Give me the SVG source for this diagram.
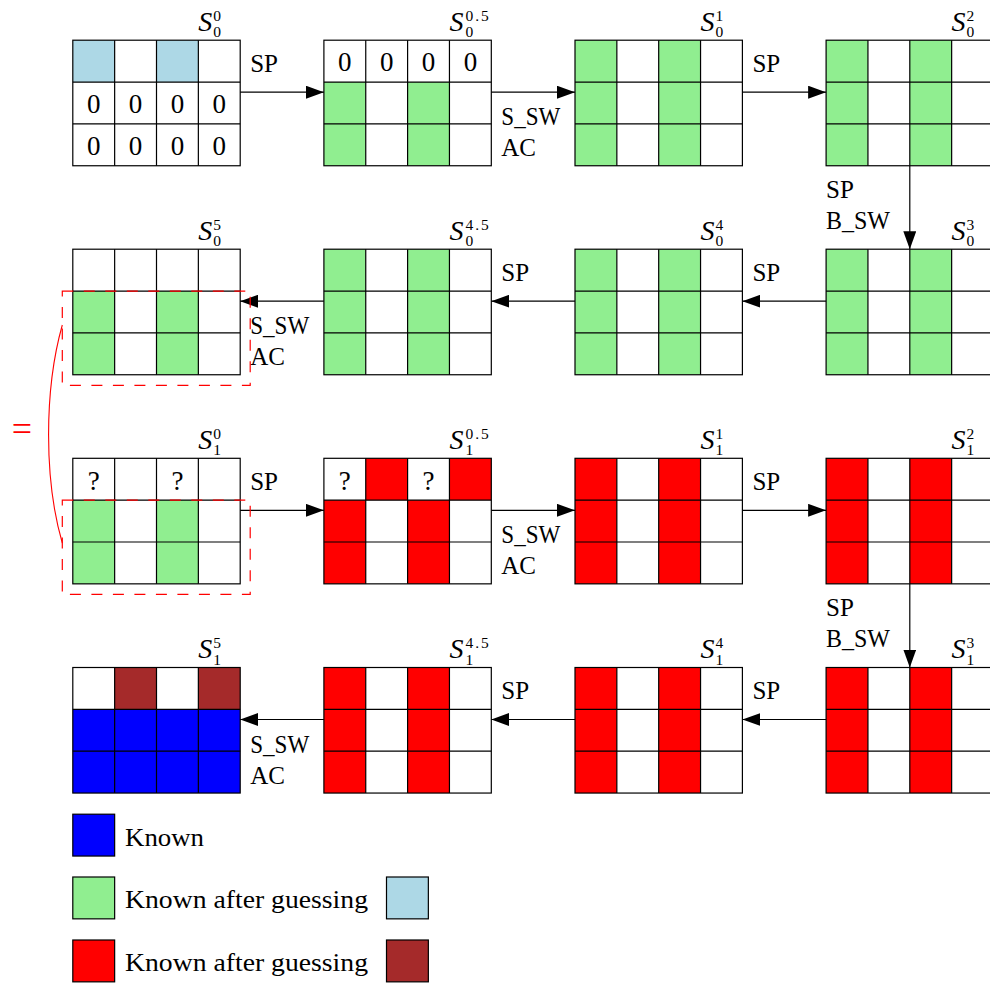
<svg xmlns="http://www.w3.org/2000/svg" xmlns:xlink="http://www.w3.org/1999/xlink" width="990" height="983" viewBox="0 0 990 983">
<style>
text{font-family:"Liberation Serif","DejaVu Serif",serif;fill:#000}
.t{font-size:25px}
.d{font-size:27px;text-anchor:middle}
.s{font-size:28px;font-style:italic}
.sm{font-size:15.5px;font-style:normal}
.g{fill:#90EE90}
.r{fill:#FF0000}
.lb{fill:#ADD8E6}
.br{fill:#A52A2A}
.b{fill:#0000FF}
.gl{fill:none;stroke:#000;stroke-width:1.2}
.c{stroke:#000;stroke-width:1.2;fill:none}
.dash{fill:none;stroke:#FF0000;stroke-width:1.2;stroke-dasharray:11 10.5}
.sq{stroke:#000;stroke-width:1.2}
</style>
<defs>
<g id="gridlines">
<rect class="gl" x="0" y="0" width="167.4" height="125.55"/>
<path class="gl" d="M41.85 0V125.55M83.7 0V125.55M125.55 0V125.55M0 41.85H167.4M0 83.7H167.4"/>
</g>
<marker id="ah" markerUnits="userSpaceOnUse" markerWidth="18" markerHeight="13" refX="18" refY="6.5" orient="auto">
<path d="M0 0L18 6.5L0 13Z" fill="#000"/>
</marker>
</defs>

<!-- Row 1 -->
<g id="S0_0" transform="translate(72.8,40.2)">
<rect class="lb" x="0" y="0" width="41.85" height="41.85"/>
<rect class="lb" x="83.7" y="0" width="41.85" height="41.85"/>
<use xlink:href="#gridlines"/>
<text class="d" x="20.9" y="72.8">0</text><text class="d" x="62.8" y="72.8">0</text><text class="d" x="104.6" y="72.8">0</text><text class="d" x="146.5" y="72.8">0</text>
<text class="d" x="20.9" y="114.6">0</text><text class="d" x="62.8" y="114.6">0</text><text class="d" x="104.6" y="114.6">0</text><text class="d" x="146.5" y="114.6">0</text>
<text class="s" x="125.5" y="-9.5">S<tspan class="sm" x="140.5" y="-19.5">0</tspan><tspan class="sm" x="140.5" y="-3">0</tspan></text>
</g>
<g id="S0_0.5" transform="translate(323.9,40.2)">
<rect class="g" x="0" y="41.85" width="41.85" height="83.7"/>
<rect class="g" x="83.7" y="41.85" width="41.85" height="83.7"/>
<use xlink:href="#gridlines"/>
<text class="d" x="20.9" y="31">0</text><text class="d" x="62.8" y="31">0</text><text class="d" x="104.6" y="31">0</text><text class="d" x="146.5" y="31">0</text>
<text class="s" x="125.5" y="-9.5">S<tspan class="sm" x="141.5" y="-19.5" letter-spacing="2">0.5</tspan><tspan class="sm" x="141.5" y="-3">0</tspan></text>
</g>
<g id="S0_1" transform="translate(575,40.2)">
<rect class="g" x="0" y="0" width="41.85" height="125.55"/>
<rect class="g" x="83.7" y="0" width="41.85" height="125.55"/>
<use xlink:href="#gridlines"/>
<text class="s" x="125.5" y="-9.5">S<tspan class="sm" x="140.5" y="-19.5">1</tspan><tspan class="sm" x="140.5" y="-3">0</tspan></text>
</g>
<g id="S0_2" transform="translate(826.1,40.2)">
<rect class="g" x="0" y="0" width="41.85" height="125.55"/>
<rect class="g" x="83.7" y="0" width="41.85" height="125.55"/>
<use xlink:href="#gridlines"/>
<text class="s" x="125.5" y="-9.5">S<tspan class="sm" x="140.5" y="-19.5">2</tspan><tspan class="sm" x="140.5" y="-3">0</tspan></text>
</g>

<!-- Row 2 -->
<g id="S0_5" transform="translate(72.8,249.2)">
<rect class="g" x="0" y="41.85" width="41.85" height="83.7"/>
<rect class="g" x="83.7" y="41.85" width="41.85" height="83.7"/>
<use xlink:href="#gridlines"/>
<text class="s" x="125.5" y="-9.5">S<tspan class="sm" x="140.5" y="-19.5">5</tspan><tspan class="sm" x="140.5" y="-3">0</tspan></text>
</g>
<g id="S0_4.5" transform="translate(323.9,249.2)">
<rect class="g" x="0" y="0" width="41.85" height="125.55"/>
<rect class="g" x="83.7" y="0" width="41.85" height="125.55"/>
<use xlink:href="#gridlines"/>
<text class="s" x="125.5" y="-9.5">S<tspan class="sm" x="141.5" y="-19.5" letter-spacing="2">4.5</tspan><tspan class="sm" x="141.5" y="-3">0</tspan></text>
</g>
<g id="S0_4" transform="translate(575,249.2)">
<rect class="g" x="0" y="0" width="41.85" height="125.55"/>
<rect class="g" x="83.7" y="0" width="41.85" height="125.55"/>
<use xlink:href="#gridlines"/>
<text class="s" x="125.5" y="-9.5">S<tspan class="sm" x="140.5" y="-19.5">4</tspan><tspan class="sm" x="140.5" y="-3">0</tspan></text>
</g>
<g id="S0_3" transform="translate(826.1,249.2)">
<rect class="g" x="0" y="0" width="41.85" height="125.55"/>
<rect class="g" x="83.7" y="0" width="41.85" height="125.55"/>
<use xlink:href="#gridlines"/>
<text class="s" x="125.5" y="-9.5">S<tspan class="sm" x="140.5" y="-19.5">3</tspan><tspan class="sm" x="140.5" y="-3">0</tspan></text>
</g>

<!-- Row 3 -->
<g id="S1_0" transform="translate(72.8,458.3)">
<rect class="g" x="0" y="41.85" width="41.85" height="83.7"/>
<rect class="g" x="83.7" y="41.85" width="41.85" height="83.7"/>
<use xlink:href="#gridlines"/>
<text class="d" x="20.9" y="31.5">?</text><text class="d" x="104.6" y="31.5">?</text>
<text class="s" x="125.5" y="-9.5">S<tspan class="sm" x="140.5" y="-19.5">0</tspan><tspan class="sm" x="140.5" y="-3">1</tspan></text>
</g>
<g id="S1_0.5" transform="translate(323.9,458.3)">
<rect class="r" x="41.85" y="0" width="41.85" height="41.85"/>
<rect class="r" x="125.55" y="0" width="41.85" height="41.85"/>
<rect class="r" x="0" y="41.85" width="41.85" height="83.7"/>
<rect class="r" x="83.7" y="41.85" width="41.85" height="83.7"/>
<use xlink:href="#gridlines"/>
<text class="d" x="20.9" y="31.5">?</text><text class="d" x="104.6" y="31.5">?</text>
<text class="s" x="125.5" y="-9.5">S<tspan class="sm" x="141.5" y="-19.5" letter-spacing="2">0.5</tspan><tspan class="sm" x="141.5" y="-3">1</tspan></text>
</g>
<g id="S1_1" transform="translate(575,458.3)">
<rect class="r" x="0" y="0" width="41.85" height="125.55"/>
<rect class="r" x="83.7" y="0" width="41.85" height="125.55"/>
<use xlink:href="#gridlines"/>
<text class="s" x="125.5" y="-9.5">S<tspan class="sm" x="140.5" y="-19.5">1</tspan><tspan class="sm" x="140.5" y="-3">1</tspan></text>
</g>
<g id="S1_2" transform="translate(826.1,458.3)">
<rect class="r" x="0" y="0" width="41.85" height="125.55"/>
<rect class="r" x="83.7" y="0" width="41.85" height="125.55"/>
<use xlink:href="#gridlines"/>
<text class="s" x="125.5" y="-9.5">S<tspan class="sm" x="140.5" y="-19.5">2</tspan><tspan class="sm" x="140.5" y="-3">1</tspan></text>
</g>

<!-- Row 4 -->
<g id="S1_5" transform="translate(72.8,667.5)">
<rect class="br" x="41.85" y="0" width="41.85" height="41.85"/>
<rect class="br" x="125.55" y="0" width="41.85" height="41.85"/>
<rect class="b" x="0" y="41.85" width="167.4" height="83.7"/>
<use xlink:href="#gridlines"/>
<text class="s" x="125.5" y="-9.5">S<tspan class="sm" x="140.5" y="-19.5">5</tspan><tspan class="sm" x="140.5" y="-3">1</tspan></text>
</g>
<g id="S1_4.5" transform="translate(323.9,667.5)">
<rect class="r" x="0" y="0" width="41.85" height="125.55"/>
<rect class="r" x="83.7" y="0" width="41.85" height="125.55"/>
<use xlink:href="#gridlines"/>
<text class="s" x="125.5" y="-9.5">S<tspan class="sm" x="141.5" y="-19.5" letter-spacing="2">4.5</tspan><tspan class="sm" x="141.5" y="-3">1</tspan></text>
</g>
<g id="S1_4" transform="translate(575,667.5)">
<rect class="r" x="0" y="0" width="41.85" height="125.55"/>
<rect class="r" x="83.7" y="0" width="41.85" height="125.55"/>
<use xlink:href="#gridlines"/>
<text class="s" x="125.5" y="-9.5">S<tspan class="sm" x="140.5" y="-19.5">4</tspan><tspan class="sm" x="140.5" y="-3">1</tspan></text>
</g>
<g id="S1_3" transform="translate(826.1,667.5)">
<rect class="r" x="0" y="0" width="41.85" height="125.55"/>
<rect class="r" x="83.7" y="0" width="41.85" height="125.55"/>
<use xlink:href="#gridlines"/>
<text class="s" x="125.5" y="-9.5">S<tspan class="sm" x="140.5" y="-19.5">3</tspan><tspan class="sm" x="140.5" y="-3">1</tspan></text>
</g>

<!-- Connectors -->
<g id="connectors">
<path class="c" marker-end="url(#ah)" d="M240.2 92.2H323.9"/>
<path class="c" marker-end="url(#ah)" d="M491.3 92.2H575"/>
<path class="c" marker-end="url(#ah)" d="M742.4 92.2H826.1"/>
<path class="c" marker-end="url(#ah)" d="M909.8 165.75V249.2"/>
<path class="c" marker-end="url(#ah)" d="M826.1 301.2H742.4"/>
<path class="c" marker-end="url(#ah)" d="M575 301.2H491.3"/>
<path class="c" marker-end="url(#ah)" d="M323.9 301.2H240.2"/>
<path class="c" marker-end="url(#ah)" d="M240.2 510.3H323.9"/>
<path class="c" marker-end="url(#ah)" d="M491.3 510.3H575"/>
<path class="c" marker-end="url(#ah)" d="M742.4 510.3H826.1"/>
<path class="c" marker-end="url(#ah)" d="M909.8 583.85V667.5"/>
<path class="c" marker-end="url(#ah)" d="M826.1 719.5H742.4"/>
<path class="c" marker-end="url(#ah)" d="M575 719.5H491.3"/>
<path class="c" marker-end="url(#ah)" d="M323.9 719.5H240.2"/>

<text class="t" x="250.2" y="71.7">SP</text>
<text class="t" x="501.3" y="125.2" textLength="59" lengthAdjust="spacingAndGlyphs">S_SW</text>
<text class="t" x="501.3" y="156.2">AC</text>
<text class="t" x="752.4" y="71.7">SP</text>
<text class="t" x="826" y="197.5">SP</text>
<text class="t" x="826" y="228.5" textLength="64" lengthAdjust="spacingAndGlyphs">B_SW</text>

<text class="t" x="501.3" y="280.7">SP</text>
<text class="t" x="752.4" y="280.7">SP</text>
<text class="t" x="250.2" y="334.2" textLength="59" lengthAdjust="spacingAndGlyphs">S_SW</text>
<text class="t" x="250.2" y="365.2">AC</text>

<text class="t" x="250.2" y="489.8">SP</text>
<text class="t" x="501.3" y="543.3" textLength="59" lengthAdjust="spacingAndGlyphs">S_SW</text>
<text class="t" x="501.3" y="574.3">AC</text>
<text class="t" x="752.4" y="489.8">SP</text>
<text class="t" x="826" y="615.5">SP</text>
<text class="t" x="826" y="646.5" textLength="64" lengthAdjust="spacingAndGlyphs">B_SW</text>

<text class="t" x="501.3" y="699">SP</text>
<text class="t" x="752.4" y="699">SP</text>
<text class="t" x="250.2" y="752.5" textLength="59" lengthAdjust="spacingAndGlyphs">S_SW</text>
<text class="t" x="250.2" y="783.5">AC</text>
</g>

<!-- Equality annotation -->
<g id="equality">
<rect class="dash" x="62.3" y="291.05" width="187.9" height="94.3"/>
<rect class="dash" x="62.3" y="500.15" width="187.9" height="94.3"/>
<path d="M62.3 325C44 390 44 480 62.3 543" fill="none" stroke="#FF0000" stroke-width="1.1"/>
<text x="22" y="441" style="font-size:36px;text-anchor:middle;fill:#FF0000">=</text>
</g>

<!-- Legend -->
<g id="legend">
<rect class="sq b" x="72.8" y="814.2" width="41.85" height="41.85"/>
<text class="t" x="125" y="845.5" textLength="79" lengthAdjust="spacingAndGlyphs">Known</text>
<rect class="sq g" x="72.8" y="877" width="41.85" height="41.85"/>
<text class="t" x="125" y="908.3" textLength="243" lengthAdjust="spacingAndGlyphs">Known after guessing</text>
<rect class="sq lb" x="386.5" y="877" width="41.85" height="41.85"/>
<rect class="sq r" x="72.8" y="940" width="41.85" height="41.85"/>
<text class="t" x="125" y="971" textLength="243" lengthAdjust="spacingAndGlyphs">Known after guessing</text>
<rect class="sq br" x="386.5" y="940" width="41.85" height="41.85"/>
</g>
</svg>
